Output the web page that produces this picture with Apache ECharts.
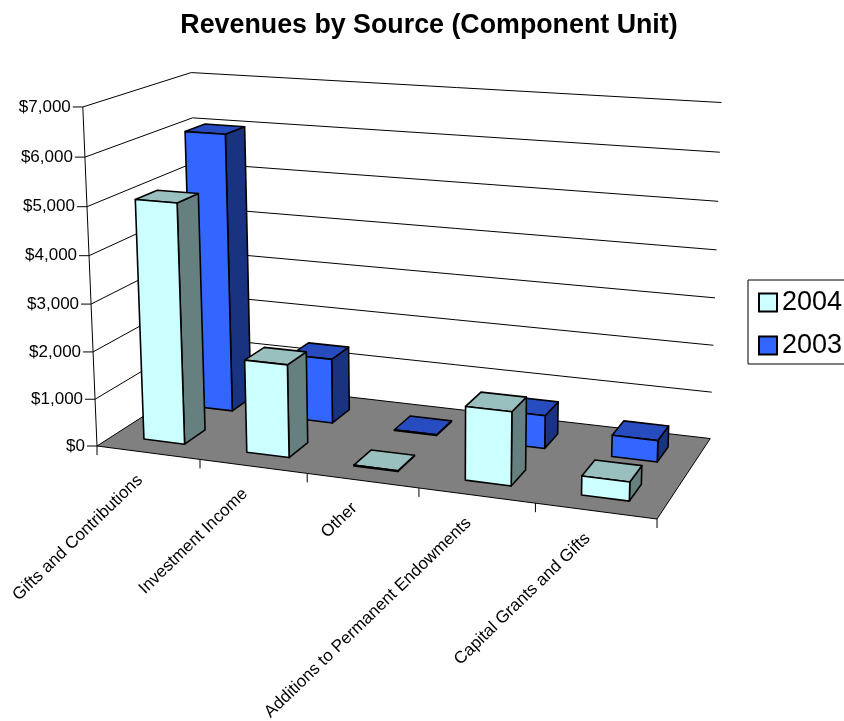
<!DOCTYPE html>
<html>
<head>
<meta charset="utf-8">
<style>html,body{margin:0;padding:0;background:#fff;overflow:hidden}#c{width:844px;height:721px}</style>
<script src="https://cdn.jsdelivr.net/npm/echarts@6/dist/echarts.min.js"></script>
</head>
<body>
<div id="c"></div>
<script>
const categories = ['Gifts and Contributions','Investment Income','Other','Additions to Permanent Endowments','Capital Grants and Gifts'];
const values2004 = [5050, 1940, 15, 1500, 380];
const values2003 = [6040, 1400, 15, 700, 450];
const tickValues = [0, 1000, 2000, 3000, 4000, 5000, 6000, 7000];

const FONT = '"Liberation Sans", Arial, sans-serif';
const W = 844, H = 721;
const PX = [495.3, 124.7, -17.5, 97];
const PY = [21.9, -25.2, -343.3, 446];
const PW = [-0.0985, 0.108, -0.04, 1];
function proj(X, Y, Z) {
  const w = PW[0]*X + PW[1]*Y + PW[2]*Z + PW[3];
  return [(PX[0]*X + PX[1]*Y + PX[2]*Z + PX[3]) / w, (PY[0]*X + PY[1]*Y + PY[2]*Z + PY[3]) / w];
}
// library scales -> normalised box coordinates
function normX(px) { return px / W; }
function normZ(py) { return 1 - py / H; }

function poly(points, fill, lineWidth) {
  return { type: 'polygon', shape: { points }, style: { fill, stroke: '#000', lineWidth: lineWidth, lineJoin: 'round' } };
}
function seg(a, b, lw) {
  return { type: 'line', shape: { x1: a[0], y1: a[1], x2: b[0], y2: b[1] }, style: { stroke: '#000', lineWidth: lw || 1 } };
}

function barRenderer(y0, y1, front, top, side) {
  return function (params, api) {
    const c = api.coord([api.value(0), api.value(1)]);
    const base = api.coord([api.value(0), 0]);
    const band = api.size([1, 0])[0];
    const x0 = normX(c[0] - band * 0.2), x1 = normX(c[0] + band * 0.2);
    const z0 = normZ(base[1]), z1 = normZ(c[1]);
    return {
      type: 'group',
      children: [
        poly([proj(x1,y0,z0), proj(x1,y1,z0), proj(x1,y1,z1), proj(x1,y0,z1)], side, 1.6),
        poly([proj(x0,y0,z1), proj(x1,y0,z1), proj(x1,y1,z1), proj(x0,y1,z1)], top, 1.6),
        poly([proj(x0,y0,z0), proj(x1,y0,z0), proj(x1,y0,z1), proj(x0,y0,z1)], front, 1.6)
      ]
    };
  };
}

function floorItem(params, api) {
  const z = normZ(api.coord([0, 0])[1]);
  return poly([proj(0,0,z), proj(1,0,z), proj(1,1,z), proj(0,1,z)], '#808080', 1);
}
function gridItem(params, api) {
  const v = api.value(0);
  const z = normZ(api.coord([0, v])[1]);
  const a = proj(0,0,z), b = proj(0,1,z), c = proj(1,1,z);
  const text = '$' + v.toLocaleString('en-US');
  const children = [
    seg([a[0]-10, a[1]], a),
    { type:'text', x:a[0]-12, y:a[1], style:{ text, fill:'#000', font:'17px '+FONT, align:'right', verticalAlign:'middle' } }
  ];
  if (v > 0) { children.push(seg(a, b), seg(b, c)); }
  return { type:'group', children };
}
function axisItem(params, api) {
  const zb = normZ(api.coord([0, 0])[1]), zt = normZ(api.coord([0, 7000])[1]);
  return seg(proj(0,0,zb), proj(0,0,zt));
}
function catItem(params, api) {
  const c = api.coord([api.value(0), 0]);
  const band = api.size([1, 0])[0];
  const z = normZ(c[1]);
  const mid = proj(normX(c[0]), 0, z);
  const t = proj(normX(c[0] + band/2), 0, z);
  const children = [
    { type:'text', x:mid[0]-8, y:mid[1]+25, rotation:44*Math.PI/180,
      style:{ text:categories[params.dataIndex], fill:'#000', font:'17px '+FONT, align:'right', verticalAlign:'middle' } },
    seg(t, [t[0], t[1]+9])
  ];
  if (params.dataIndex === 0) {
    const l = proj(normX(c[0] - band/2), 0, z);
    children.push(seg(l, [l[0], l[1]+9]));
  }
  return { type:'group', children };
}

const chart = echarts.init(document.getElementById('c'), null, { renderer: 'canvas' });
chart.setOption({
  animation: false,
  backgroundColor: '#fff',
  title: { text: 'Revenues by Source (Component Unit)', left: 424, top: 7, textAlign: 'center',
    textStyle: { fontFamily: FONT, fontWeight: 'bold', fontSize: 26.8, color: '#000' } },
  legend: {
    data: ['2004', '2003'], orient: 'vertical', left: 748, top: 280, padding: [9, 12, 5, 10],
    itemWidth: 18, itemHeight: 18, itemGap: 16, icon: 'rect', selectedMode: false,
    borderColor: '#000', borderWidth: 1, backgroundColor: '#fff',
    textStyle: { fontFamily: FONT, fontSize: 27, color: '#000' }
  },
  grid: { left: 0, right: 0, top: 0, bottom: 0 },
  xAxis: { type: 'category', data: categories, show: false },
  yAxis: { type: 'value', min: 0, max: 7000, interval: 1000, show: false },
  series: [
    { type:'custom', name:'floor', silent:true, clip:false, z:1, data:[[0]], renderItem:floorItem },
    { type:'custom', name:'grid', silent:true, clip:false, z:2, data:tickValues.map(v=>[v]), encode:{y:0}, renderItem:gridItem },
    { type:'custom', name:'axis', silent:true, clip:false, z:2, data:[[0]], renderItem:axisItem },
    { type:'custom', name:'cats', silent:true, clip:false, z:2, data:categories.map((c,i)=>[i]), encode:{x:0}, renderItem:catItem },
    { type:'custom', name:'2003', clip:false, z:3, encode:{x:0,y:1},
      itemStyle:{ color:'#3366FF', borderColor:'#000', borderWidth:1.5 },
      data:values2003.map((v,i)=>[i,v]), renderItem:barRenderer(0.63,0.83,'#3366FF','#264CBF','#1A3380') },
    { type:'custom', name:'2004', clip:false, z:4, encode:{x:0,y:1},
      itemStyle:{ color:'#CCFFFF', borderColor:'#000', borderWidth:1.5 },
      data:values2004.map((v,i)=>[i,v]), renderItem:barRenderer(0.15,0.35,'#CCFFFF','#99BFBF','#668080') }
  ]
});
</script>
</body>
</html>
